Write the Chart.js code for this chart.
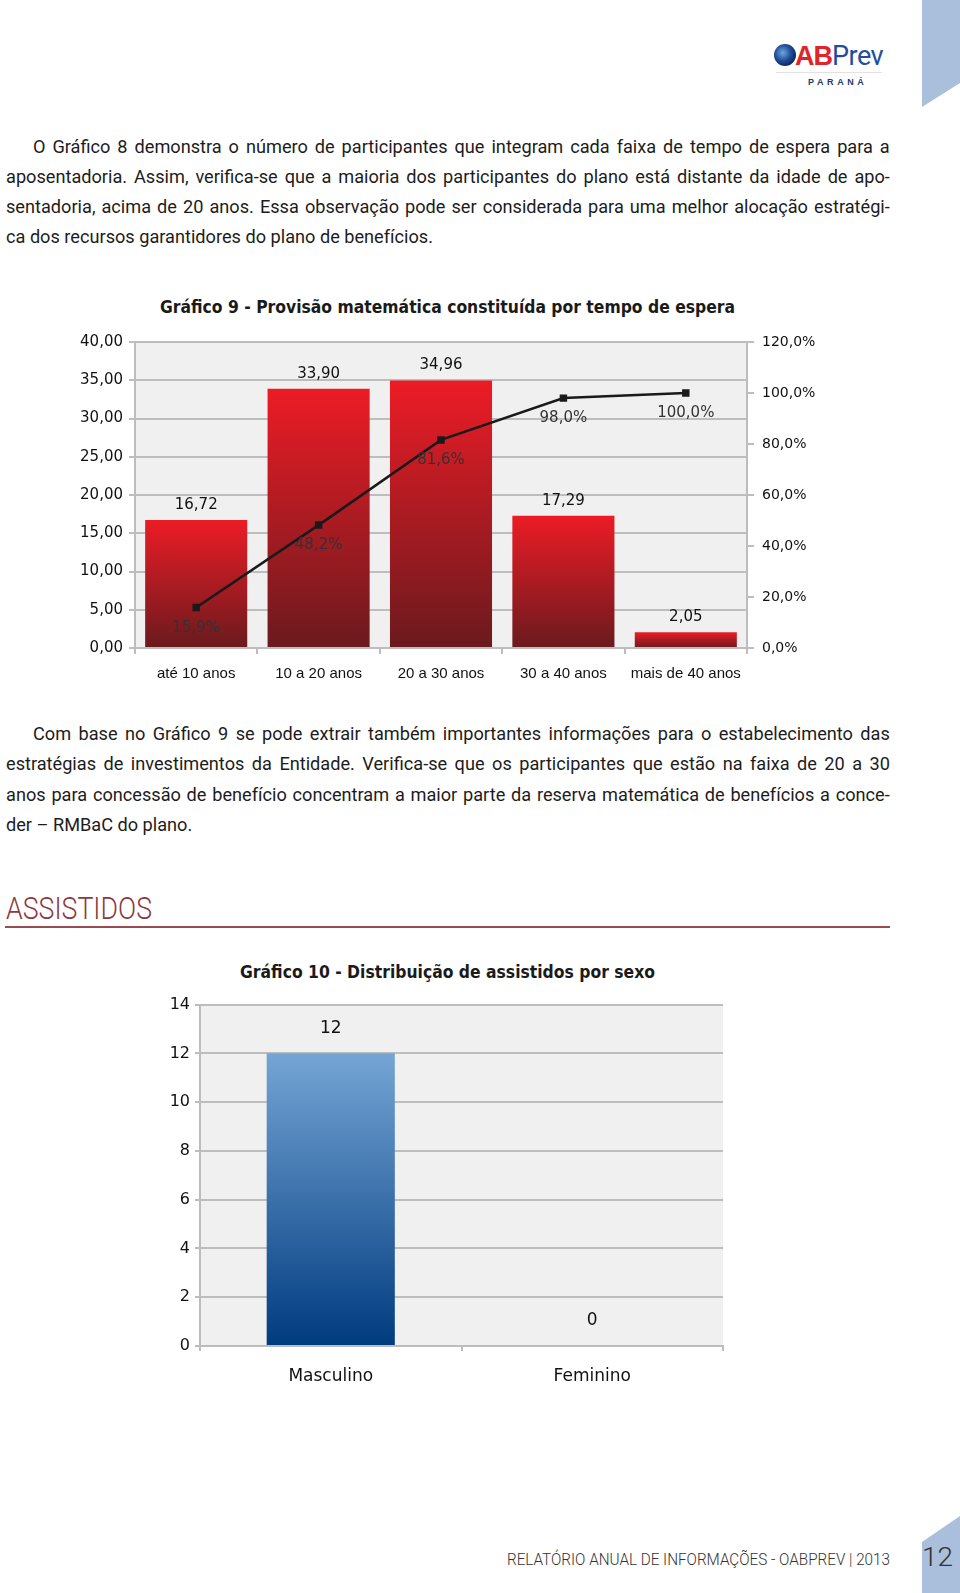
<!DOCTYPE html>
<html><head><meta charset="utf-8">
<script src="https://cdn.jsdelivr.net/npm/chart.js@4.4.1/dist/chart.umd.min.js"></script>
<style>
html,body{margin:0;padding:0;background:#fff;}
body{width:960px;height:1593px;position:relative;overflow:hidden;font-family:Roboto,'Liberation Sans',sans-serif;}
.abs{position:absolute;white-space:nowrap;}
.line{position:absolute;height:30px;line-height:30px;color:#1c1c1c;white-space:nowrap;font-size:18.5px;transform-origin:0 50%;}
.just{display:flex;justify-content:space-between;}
.fitx{display:inline-block;transform-origin:0 50%;}
canvas{position:absolute;}
</style>
</head>
<body>
<svg class="abs" style="left:0;top:0" width="960" height="1593">
  <defs>
    <radialGradient id="globe" cx="40%" cy="40%" r="60%">
      <stop offset="0" stop-color="#6fa6de"/>
      <stop offset="0.6" stop-color="#1f4f9c"/>
      <stop offset="1" stop-color="#0f2a5e"/>
    </radialGradient>
  </defs>
  <polygon points="922,0 960,0 960,83 922,107" fill="#a9bfdc"/>
  <polygon points="922,1542 960,1516 960,1593 922,1593" fill="#a9bfdc"/>
  <circle cx="785" cy="55" r="11" fill="url(#globe)"/>
  <line x1="776" y1="72.5" x2="882" y2="72.5" stroke="#e2e2e2" stroke-width="1"/>
</svg>
<div class="abs" style="left:795px;top:39px;height:34px;line-height:34px;font-family:'Liberation Sans';font-weight:bold;font-size:27px;color:#e2232a;letter-spacing:-1px">AB</div>
<div class="abs" style="left:832px;top:39px;height:34px;line-height:34px;font-family:Roboto;font-size:27px;color:#1f4e9e;letter-spacing:-0.5px">Prev</div>
<div class="abs" style="left:808px;top:75px;height:14px;line-height:14px;font-family:'Liberation Sans';font-weight:bold;font-size:9px;color:#1e3a6e;letter-spacing:3.6px">PARANÁ</div>

<div id="para1"></div>
<div id="para2"></div>

<div class="abs" style="left:6px;top:889px;height:40px;line-height:40px;font-family:Roboto;font-weight:300;font-size:31px;color:#8c3a41"><span class="fitx" data-w="146">ASSISTIDOS</span></div>
<div class="abs" style="left:5px;top:926px;width:885px;height:2px;background:#9a4a50"></div>

<div class="abs" style="left:160px;top:295px;height:24px;line-height:24px;font-family:'DejaVu Sans Condensed','DejaVu Sans';font-stretch:condensed;font-weight:bold;font-size:18px;color:#1a1a1a"><span class="fitx" data-w="575">Gráfico 9 - Provisão matemática constituída por tempo de espera</span></div>
<div class="abs" style="left:240px;top:960px;height:24px;line-height:24px;font-family:'DejaVu Sans Condensed','DejaVu Sans';font-stretch:condensed;font-weight:bold;font-size:18px;color:#1a1a1a"><span class="fitx" data-w="415">Gráfico 10 - Distribuição de assistidos por sexo</span></div>

<canvas id="c9" width="770" height="380" style="left:60px;top:320px"></canvas>
<canvas id="c10" width="610" height="410" style="left:130px;top:990px"></canvas>

<div class="abs" style="left:507px;top:1548px;height:24px;line-height:24px;font-family:Roboto;font-weight:300;font-size:16px;color:#333"><span class="fitx" data-w="383">RELATÓRIO ANUAL DE INFORMAÇÕES - OABPREV | 2013</span></div>
<div class="abs" style="left:922px;top:1543px;height:30px;line-height:30px;font-family:Roboto;font-weight:300;font-size:25px;color:#333"><span class="fitx" data-w="31">12</span></div>

<script>
// ---- Text ----
const para1Lines = [
  'O Gráfico 8 demonstra o número de participantes que integram cada faixa de tempo de espera para a',
  'aposentadoria. Assim, verifica-se que a maioria dos participantes do plano está distante da idade de apo-',
  'sentadoria, acima de 20 anos. Essa observação pode ser considerada para uma melhor alocação estratégi-',
  'ca dos recursos garantidores do plano de benefícios.'
];
const para2Lines = [
  'Com base no Gráfico 9 se pode extrair também importantes informações para o estabelecimento das',
  'estratégias de investimentos da Entidade. Verifica-se que os participantes que estão na faixa de 20 a 30',
  'anos para concessão de benefício concentram a maior parte da reserva matemática de benefícios a conce-',
  'der – RMBaC do plano.'
];

// ---- Data: Gráfico 9 ----
const categories9 = ['até 10 anos', '10 a 20 anos', '20 a 30 anos', '30 a 40 anos', 'mais de 40 anos'];
const provisao9 = [16.72, 33.90, 34.96, 17.29, 2.05];
const acumulado9 = [15.9, 48.2, 81.6, 98.0, 100.0];
const leftMin9 = 0, leftMax9 = 40, leftStep9 = 5;
const rightMin9 = 0, rightMax9 = 120, rightStep9 = 20;

// ---- Data: Gráfico 10 ----
const categories10 = ['Masculino', 'Feminino'];
const assistidos10 = [12, 0];
const min10 = 0, max10 = 14, step10 = 2;

// ---- Build paragraphs (condensed by horizontal scale) ----
const probe = document.createElement('span');
probe.className = 'abs'; probe.style.fontSize = '18.5px'; probe.style.fontFamily = 'Roboto';
probe.textContent = para1Lines[para1Lines.length - 1];
document.body.appendChild(probe);
const textScale = 427 / probe.getBoundingClientRect().width;
probe.remove();

function buildPara(container, lines, top, step) {
  const c = document.getElementById(container);
  lines.forEach((t, i) => {
    const d = document.createElement('div');
    d.className = 'line';
    const left = i === 0 ? 33 : 6;
    d.style.left = left + 'px';
    d.style.top = (top + i * step) + 'px';
    d.style.transform = 'scaleX(' + textScale.toFixed(4) + ')';
    if (i < lines.length - 1) {
      d.style.width = ((890 - left) / textScale).toFixed(2) + 'px';
      d.classList.add('just');
      t.split(' ').forEach(w => { const s = document.createElement('span'); s.textContent = w; d.appendChild(s); });
    } else {
      d.textContent = t;
    }
    c.appendChild(d);
  });
}
buildPara('para1', para1Lines, 132, 30);
buildPara('para2', para2Lines, 718.5, 30.5);
document.querySelectorAll('.fitx').forEach(el => {
  const w = el.getBoundingClientRect().width;
  el.style.transform = 'scaleX(' + (parseFloat(el.dataset.w) / w).toFixed(4) + ')';
});

// ---- Chart helpers ----
const fmt2 = v => v.toFixed(2).replace('.', ',');
const fmtPct = v => v.toFixed(1).replace('.', ',') + '%';
const gridCol = '#bdbdbd';

const plotBg = {
  id: 'plotBg',
  beforeDraw(chart, args, opts) {
    const { ctx, chartArea: a } = chart;
    ctx.save(); ctx.fillStyle = opts.color || '#f0f0f0';
    ctx.fillRect(a.left, a.top, a.right - a.left, a.bottom - a.top); ctx.restore();
  }
};
const valueLabels = {
  id: 'valueLabels',
  afterDatasetsDraw(chart) {
    const ctx = chart.ctx;
    chart.data.datasets.forEach((ds, i) => {
      const cfg = ds.valueLabel; if (!cfg) return;
      chart.getDatasetMeta(i).data.forEach((el, j) => {
        ctx.save(); ctx.font = cfg.font; ctx.fillStyle = cfg.color;
        ctx.textAlign = 'center'; ctx.textBaseline = 'middle';
        ctx.fillText(cfg.format(ds.data[j]), el.x, el.y + cfg.dy); ctx.restore();
      });
    });
  }
};
function barGradient(top, bottom, scaleId) {
  return (c) => {
    const chart = c.chart;
    if (!chart.chartArea || c.type !== 'data') return bottom;
    const ys = chart.scales[scaleId];
    const y0 = ys.getPixelForValue(c.raw), y1 = ys.getPixelForValue(0);
    if (!isFinite(y0) || !isFinite(y1) || y0 === y1) return top;
    const g = chart.ctx.createLinearGradient(0, y0, 0, y1);
    g.addColorStop(0, top); g.addColorStop(1, bottom);
    return g;
  };
}

// ---- Chart 9 ----
new Chart(document.getElementById('c9'), {
  data: {
    labels: categories9,
    datasets: [
      {
        type: 'line', order: 0, yAxisID: 'y1', data: acumulado9,
        borderColor: '#1a1a1a', borderWidth: 2.5, tension: 0,
        pointStyle: 'rect', pointRadius: 3.5, pointBackgroundColor: '#1a1a1a', pointBorderColor: '#1a1a1a',
        valueLabel: { font: '15px "DejaVu Sans"', color: '#333', dy: 20.5, format: fmtPct }
      },
      {
        type: 'bar', order: 1, yAxisID: 'y', data: provisao9,
        backgroundColor: barGradient('#ec1c26', '#6a1a1e', 'y'),
        barPercentage: 0.834, categoryPercentage: 1,
        valueLabel: { font: '15px "DejaVu Sans"', color: '#111', dy: -15, format: fmt2 }
      }
    ]
  },
  options: {
    responsive: false, animation: false, devicePixelRatio: 1,
    layout: { padding: { top: 22, left: 0, right: 0, bottom: 0 } },
    plugins: { legend: { display: false }, tooltip: { enabled: false }, plotBg: { color: '#f0f0f0' } },
    scales: {
      x: {
        offset: true,
        grid: { display: true, drawOnChartArea: false, offset: true, tickLength: 6, color: gridCol, lineWidth: 2 },
        border: { color: gridCol, width: 2 },
        ticks: { font: { family: 'Liberation Sans', size: 15 }, color: '#111', padding: 10.5, maxRotation: 0 },
        afterFit: s => { s.height = 52; }
      },
      y: {
        position: 'left', min: leftMin9, max: leftMax9,
        ticks: { stepSize: leftStep9, callback: v => fmt2(v), font: { family: 'DejaVu Sans', size: 15 }, color: '#111', padding: 6 },
        grid: { color: gridCol, lineWidth: 2, tickLength: 6 },
        border: { color: gridCol, width: 2 },
        afterFit: s => { s.width = 75; }
      },
      y1: {
        position: 'right', min: rightMin9, max: rightMax9,
        ticks: { stepSize: rightStep9, callback: v => fmtPct(v), font: { family: 'DejaVu Sans', size: 14 }, color: '#111', padding: 8 },
        grid: { drawOnChartArea: false, color: gridCol, lineWidth: 2, tickLength: 7 },
        border: { color: gridCol, width: 2 },
        afterFit: s => { s.width = 83; }
      }
    }
  },
  plugins: [plotBg, valueLabels]
});

// ---- Chart 10 ----
new Chart(document.getElementById('c10'), {
  type: 'bar',
  data: {
    labels: categories10,
    datasets: [{
      data: assistidos10,
      backgroundColor: barGradient('#75a5d5', '#003b7f', 'y'),
      barPercentage: 0.49, categoryPercentage: 1,
      valueLabel: { font: '17px "DejaVu Sans"', color: '#111', dy: -25, format: v => String(v) }
    }]
  },
  options: {
    responsive: false, animation: false, devicePixelRatio: 1,
    layout: { padding: { top: 12, left: 0, right: 17, bottom: 0 } },
    plugins: { legend: { display: false }, tooltip: { enabled: false }, plotBg: { color: '#f0f0f0' } },
    scales: {
      x: {
        grid: { display: true, drawOnChartArea: false, offset: true, tickLength: 5, color: gridCol, lineWidth: 2 },
        border: { color: gridCol, width: 2 },
        ticks: { font: { family: 'DejaVu Sans', size: 17 }, color: '#111', padding: 15 },
        afterFit: s => { s.height = 54; }
      },
      y: {
        min: min10, max: max10,
        ticks: { stepSize: step10, font: { family: 'DejaVu Sans', size: 16 }, color: '#111', padding: 5 },
        grid: { color: gridCol, lineWidth: 2, tickLength: 5 },
        border: { color: gridCol, width: 2 },
        afterFit: s => { s.width = 70; }
      }
    }
  },
  plugins: [plotBg, valueLabels]
});
</script>
</body></html>
